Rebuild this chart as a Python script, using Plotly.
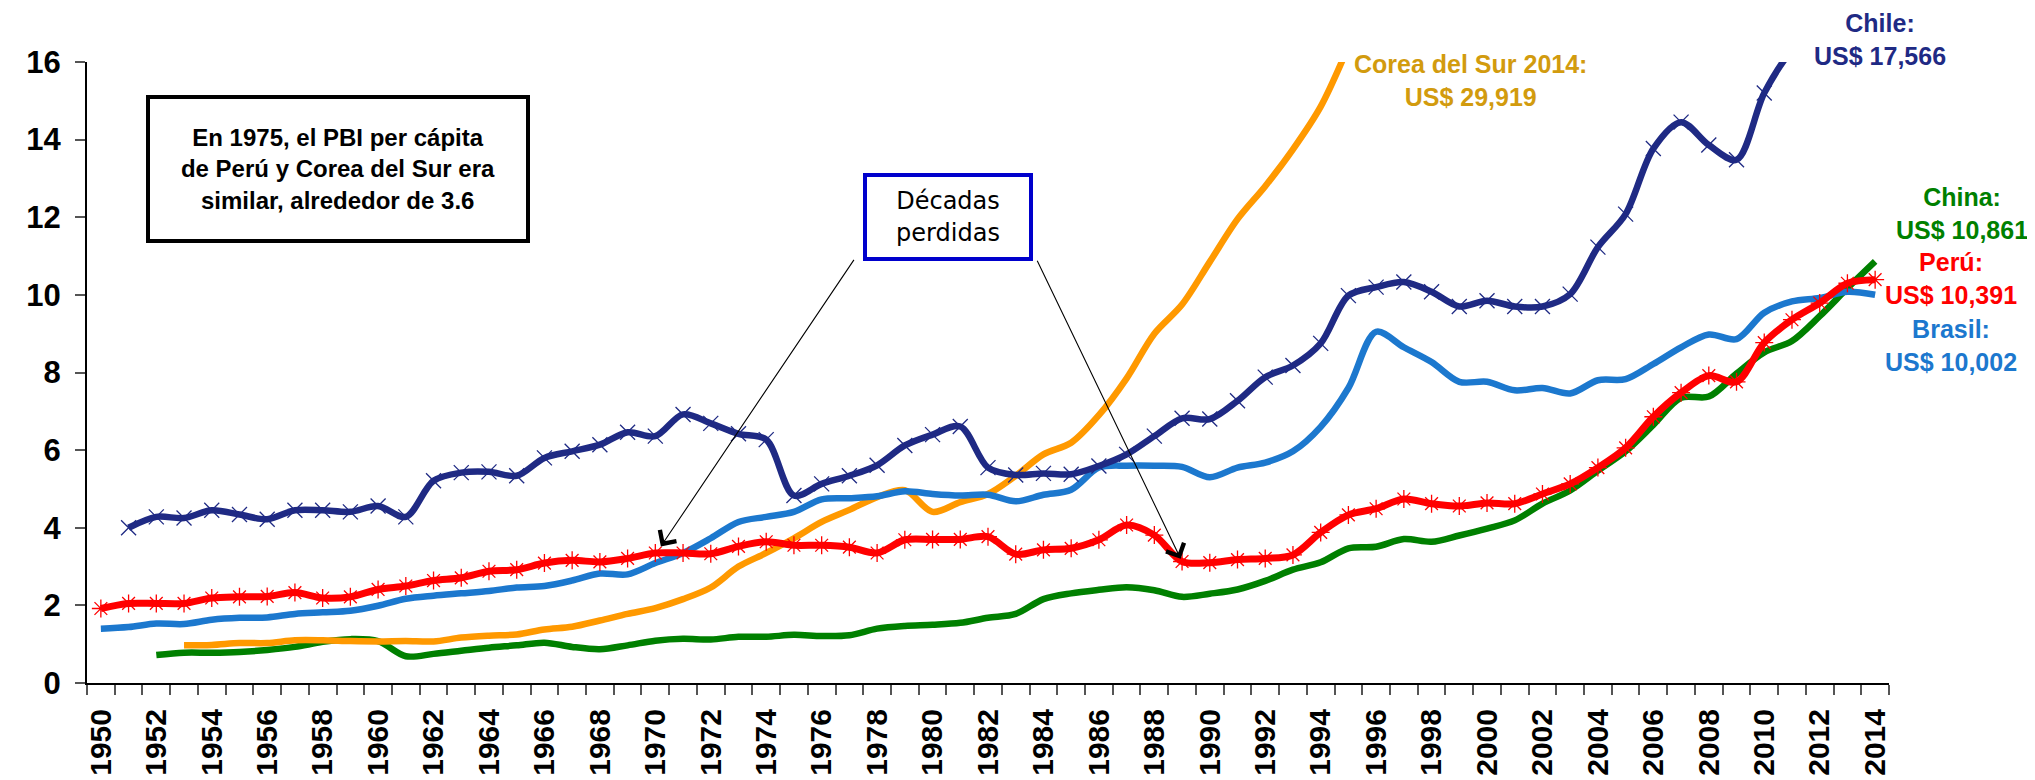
import plotly.graph_objects as go

years = list(range(1950, 2015))

chile = [None, 4.00, 4.28, 4.25, 4.45, 4.34, 4.22, 4.45, 4.45, 4.41,
         4.56, 4.28, 5.21, 5.42, 5.44, 5.34, 5.80, 5.97, 6.14, 6.46,
         6.36, 6.92, 6.69, 6.42, 6.27, 4.83, 5.13, 5.34, 5.61, 6.12,
         6.40, 6.61, 5.55, 5.36, 5.40, 5.38, 5.59, 5.89, 6.36, 6.82,
         6.80, 7.27, 7.88, 8.18, 8.75, 9.98, 10.20, 10.33, 10.08, 9.70,
         9.85, 9.70, 9.70, 10.02, 11.23, 12.08, 13.77, 14.45, 13.86, 13.48,
         15.20, 16.30, 16.90, 17.30, 17.566]

corea = [None, None, None, 0.97, 0.98, 1.03, 1.03, 1.10, 1.10, 1.08,
         1.07, 1.08, 1.07, 1.17, 1.22, 1.25, 1.38, 1.45, 1.61, 1.78,
         1.93, 2.16, 2.46, 3.00, 3.35, 3.73, 4.15, 4.46, 4.79, 4.97,
         4.41, 4.66, 4.87, 5.34, 5.89, 6.19, 6.90, 7.85, 9.00, 9.75,
         10.85, 11.95, 12.80, 13.75, 14.85, 16.40] + [None] * 19

china = [None, None, 0.72, 0.78, 0.78, 0.80, 0.85, 0.93, 1.06, 1.13,
         1.08, 0.69, 0.75, 0.83, 0.91, 0.97, 1.04, 0.93, 0.87, 0.97,
         1.09, 1.14, 1.12, 1.19, 1.19, 1.24, 1.21, 1.23, 1.40, 1.47,
         1.50, 1.55, 1.68, 1.78, 2.16, 2.31, 2.40, 2.47, 2.39, 2.22,
         2.30, 2.41, 2.63, 2.92, 3.11, 3.47, 3.51, 3.71, 3.64, 3.80,
         3.98, 4.19, 4.62, 4.96, 5.47, 5.97, 6.65, 7.35, 7.38, 7.97,
         8.52, 8.81, 9.45, 10.17, 10.861]

peru = [1.92, 2.05, 2.05, 2.05, 2.19, 2.22, 2.23, 2.33, 2.19, 2.22,
        2.41, 2.50, 2.64, 2.71, 2.88, 2.92, 3.09, 3.16, 3.12, 3.21,
        3.35, 3.35, 3.33, 3.52, 3.64, 3.55, 3.55, 3.50, 3.35, 3.69,
        3.70, 3.70, 3.77, 3.32, 3.43, 3.47, 3.69, 4.07, 3.81, 3.13,
        3.10, 3.18, 3.21, 3.30, 3.88, 4.33, 4.49, 4.74, 4.62, 4.56,
        4.64, 4.62, 4.87, 5.13, 5.55, 6.06, 6.86, 7.48, 7.92, 7.76,
        8.77, 9.36, 9.79, 10.30, 10.391]

brasil = [1.40, 1.44, 1.53, 1.52, 1.63, 1.68, 1.69, 1.78, 1.82, 1.86,
          1.99, 2.17, 2.25, 2.31, 2.37, 2.46, 2.50, 2.64, 2.82, 2.80,
          3.09, 3.35, 3.73, 4.15, 4.28, 4.41, 4.73, 4.76, 4.81, 4.94,
          4.87, 4.83, 4.85, 4.68, 4.85, 4.98, 5.55, 5.60, 5.60, 5.57,
          5.30, 5.55, 5.68, 5.97, 6.60, 7.60, 9.05, 8.65, 8.27, 7.76,
          7.76, 7.54, 7.60, 7.46, 7.80, 7.83, 8.22, 8.65, 8.98, 8.86,
          9.54, 9.83, 9.92, 10.08, 10.002]

y_ticks = [0, 2, 4, 6, 8, 10, 12, 14, 16]
x_tick_years = years[::2]

C_CHILE = "#1F2A84"
C_COREA = "#FF9900"
C_CHINA = "#008000"
C_PERU = "#FF0000"
C_BRASIL = "#1C78CE"

fig = go.Figure()

def add_line(y, color, symbol=None, width=6.5):
    kw = dict(mode="lines")
    if symbol:
        kw["mode"] = "lines+markers"
        kw["marker"] = dict(symbol=symbol, size=15, color=color,
                            line=dict(color=color, width=1.3))
    fig.add_trace(go.Scatter(x=years, y=y, line=dict(color=color, width=width,
                                                     shape="spline", smoothing=0.9),
                             connectgaps=False, showlegend=False, **kw))

add_line(china, C_CHINA)
add_line(corea, C_COREA)
add_line(brasil, C_BRASIL)
add_line(chile, C_CHILE, "x-thin-open")
add_line(peru, C_PERU, "asterisk-open", width=7)

def side_label(text, x, y, color, size=25):
    fig.add_annotation(text=text, x=x, y=y, xref="paper", yref="paper",
                       showarrow=False, xanchor="center", yanchor="middle",
                       font=dict(family="Liberation Sans, Arial", size=size, color=color,
                                 weight="bold"))

side_label("Chile:<br>US$ 17,566", 0.995, 1.036, C_CHILE)
side_label("Corea del Sur 2014:<br>US$ 29,919", 0.768, 0.970, "#D29B0E")
side_label("China:<br>US$ 10,861", 1.0405, 0.756, C_CHINA)
side_label("Perú:<br>US$ 10,391", 1.0344, 0.651, C_PERU)
side_label("Brasil:<br>US$ 10,002", 1.0344, 0.544, C_BRASIL)

# Info box
fig.add_annotation(text="En 1975, el PBI per cápita<br>de Perú y Corea del Sur era<br>similar, alrededor de 3.6",
                   x=(329.5 - 79) / 1802, y=(683.3 - 162) / 629.3, xref="paper", yref="paper",
                   showarrow=False, xanchor="center", yanchor="middle",
                   width=372, height=136, bordercolor="black", borderwidth=4, borderpad=2,
                   bgcolor="white",
                   font=dict(family="Liberation Sans, Arial", size=24, color="black",
                             weight="bold"))

# Décadas perdidas box
fig.add_annotation(text="Décadas<br>perdidas",
                   x=(940 - 79) / 1802, y=(683.3 - 211) / 629.3, xref="paper", yref="paper",
                   showarrow=False, xanchor="center", yanchor="middle",
                   width=158, height=76, bordercolor="#0000CC", borderwidth=4, borderpad=2,
                   bgcolor="white",
                   font=dict(family="DejaVu Sans, sans-serif", size=24, color="black"))

# Arrows
for hx, hy, tx, ty in [(1970.2, 3.52, 1977.2, 10.94), (1988.95, 3.2, 1983.75, 10.92)]:
    fig.add_annotation(x=hx, y=hy, ax=tx, ay=ty, xref="x", yref="y", axref="x", ayref="y",
                       text="", showarrow=True, arrowhead=4, arrowsize=3.5, arrowwidth=1.1,
                       arrowcolor="black")

fig.update_layout(
    width=2035, height=780,
    margin=dict(l=79, r=154, t=54, b=97),
    plot_bgcolor="white", paper_bgcolor="white",
    showlegend=False,
    xaxis=dict(range=[1949.5, 2014.5], tickmode="array", tickvals=x_tick_years,
               ticktext=[str(v) for v in x_tick_years], tickangle=-90, ticks="",
               showgrid=False, zeroline=False, showline=True, linecolor="black", linewidth=2,
               ticklabelstandoff=12,
               tickfont=dict(family="Liberation Sans, Arial, sans-serif", size=30,
                             color="black", weight="bold"),
               minor=dict(tickmode="linear", tick0=1949.5, dtick=1, ticks="outside",
                          ticklen=10, tickwidth=1.5, tickcolor="#555555", showgrid=False)),
    yaxis=dict(range=[0, 16], tickmode="array", tickvals=y_ticks, ticks="outside",
               ticklen=10, tickwidth=1.5, tickcolor="#555555",
               showgrid=False, zeroline=False, showline=True, linecolor="black", linewidth=2,
               ticklabelstandoff=8,
               tickfont=dict(family="Liberation Sans Narrow, Liberation Sans, Arial", size=31,
                             color="black", weight="bold")),
)

fig.write_html("out.html")
